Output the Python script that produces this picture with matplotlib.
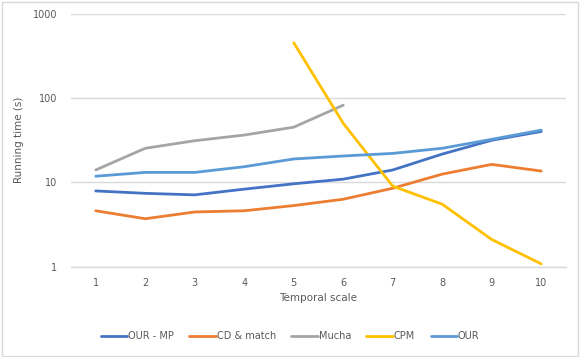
import matplotlib
matplotlib.use("Agg")
import matplotlib.pyplot as plt
from matplotlib.patches import Rectangle
import numpy as np

x_labels = ["1", "2", "3", "4", "5", "6", "7", "8", "9", "10"]
our_mp = [7.9, 7.4, 7.1, 8.3, 9.6, 10.9, 14.0, 21.6, 31.5, 40.0]
cd_match = [4.6, 3.7, 4.45, 4.6, 5.3, 6.3, 8.5, 12.5, 16.3, 13.6]
mucha = [14.0, 25.3, 31.1, 36.3, 45.0, 82.0, None, None, None, None]
cpm = [None, None, None, None, 450, 50, 9.0, 5.5, 2.1, 1.08]
our = [11.8, 13.1, 13.1, 15.3, 18.9, 20.5, 22.0, 25.3, 32.3, 41.5]

series = [
    ("OUR - MP", our_mp, "#4472C4"),
    ("CD & match", cd_match, "#ED7D31"),
    ("Mucha", mucha, "#A5A5A5"),
    ("CPM", cpm, "#FFC000"),
    ("OUR", our, "#5B9BD5"),
]

W, H = 581, 357
fig = plt.figure(figsize=(W / 100, H / 100), dpi=100)
fig.patch.set_facecolor("white")
ax = fig.add_axes([71 / W, 1 - 266.7 / H, (566 - 71) / W, (266.7 - 13.5) / H])

xpos = np.arange(len(x_labels))
for name, vals, color in series:
    v = np.array([np.nan if a is None else a for a in vals], dtype=float)
    ax.plot(xpos, v, color=color, lw=2.0, label=name, solid_capstyle="round",
            solid_joinstyle="round")

ax.set_yscale("log")
ax.set_ylim(1, 1000)
ax.set_xlim(-0.5, len(x_labels) - 0.5)
ax.set_yticks([1, 10, 100, 1000])
ax.set_yticklabels(["1", "10", "100", "1000"])
ax.minorticks_off()
ax.set_xticks(xpos)
ax.set_xticklabels(x_labels)

txt = "#595959"
ax.tick_params(axis="both", length=0, labelsize=7, colors=txt)
ax.tick_params(axis="y", pad=10)
ax.tick_params(axis="x", pad=8)
ax.grid(axis="y", color="#D9D9D9", lw=1)
ax.set_axisbelow(True)
for s in ["top", "right", "left"]:
    ax.spines[s].set_visible(False)
ax.spines["bottom"].set_color("#D9D9D9")
ax.spines["bottom"].set_linewidth(1)

ax.set_ylabel("Running time (s)", fontsize=7.5, color=txt, labelpad=6)
ax.set_xlabel("Temporal scale", fontsize=7.5, color=txt, labelpad=4)

leg = fig.legend(loc="center", bbox_to_anchor=(290 / W, 1 - 336 / H), ncol=5,
                 frameon=False, fontsize=7, handlelength=2.7, handletextpad=0.1,
                 columnspacing=1.6)
for t in leg.get_texts():
    t.set_color(txt)

fig.add_artist(Rectangle((1.5 / W, 1.5 / H), (578 - 1.5) / W, (355 - 1.5) / H,
                         transform=fig.transFigure, fill=False,
                         edgecolor="#D9D9D9", lw=1))

fig.savefig("out.png", dpi=100)
